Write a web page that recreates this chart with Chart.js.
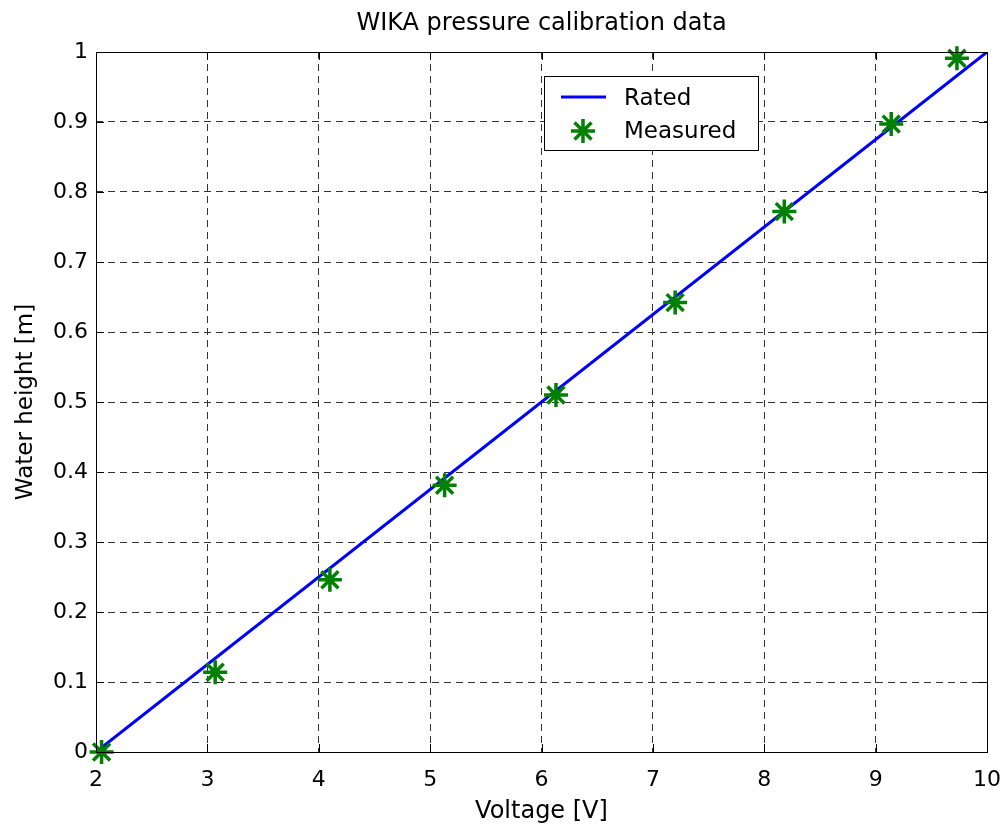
<!DOCTYPE html>
<html>
<head>
<meta charset="utf-8">
<script src="https://cdn.jsdelivr.net/npm/chart.js@4"></script>
<style>
  html, body { margin: 0; padding: 0; background: #fff; }
  #wrap { width: 1006px; height: 831px; }
</style>
</head>
<body>
<div id="wrap"><canvas id="myChart" width="1006" height="831"></canvas></div>
<script>
(function () {

    // rated sensor line (voltage -> water height)
    const ratedX = [2, 10];
    const ratedY = [0, 1];

    // measured calibration points
    const measuredX = [2.05, 3.07, 4.10, 5.13, 6.13, 7.20, 8.18, 9.14, 9.73];
    const measuredY = [0.000, 0.114, 0.246, 0.381, 0.510, 0.642, 0.772, 0.897, 0.991];

    const xTicks = [2, 3, 4, 5, 6, 7, 8, 9, 10];
    const yTicks = [0, 0.1, 0.2, 0.3, 0.4, 0.5, 0.6, 0.7, 0.8, 0.9, 1];

    const titleText = 'WIKA pressure calibration data';
    const font = '"DejaVu Sans", Arial, sans-serif';
    const green = '#008000';
    const blue = '#0000ff';

    const toPoints = (xs, ys) => xs.map((x, i) => ({ x: x, y: ys[i] }));

    // title, frame + inward tick marks like matlab
    const framePlugin = {
        id: 'frame',
        afterDraw(chart) {
            const ctx = chart.ctx;
            const a = chart.chartArea;
            const xs = chart.scales.x;
            const ys = chart.scales.y;
            ctx.save();
            ctx.strokeStyle = '#000';
            ctx.lineWidth = 1;
            ctx.setLineDash([]);
            ctx.beginPath();
            xTicks.forEach(v => {
                const px = Math.round(xs.getPixelForValue(v)) + 0.5;
                ctx.moveTo(px, a.bottom); ctx.lineTo(px, a.bottom - 8);
                ctx.moveTo(px, a.top); ctx.lineTo(px, a.top + 8);
            });
            yTicks.forEach(v => {
                const py = Math.round(ys.getPixelForValue(v)) + 0.5;
                ctx.moveTo(a.left, py); ctx.lineTo(a.left + 8, py);
                ctx.moveTo(a.right, py); ctx.lineTo(a.right - 8, py);
            });
            ctx.stroke();
            ctx.strokeRect(Math.round(a.left) + 0.5, Math.round(a.top) + 0.5,
                Math.round(a.right - a.left), Math.round(a.bottom - a.top));

            ctx.fillStyle = '#000';
            ctx.font = '24px ' + font;
            ctx.textAlign = 'center';
            ctx.textBaseline = 'alphabetic';
            ctx.fillText(titleText, (a.left + a.right) / 2, 30);
            ctx.restore();
        }
    };

    // legend box drawn inside the plot
    const legendPlugin = {
        id: 'insideLegend',
        afterDraw(chart) {
            const ctx = chart.ctx;
            const bx = 544, by = 76, bw = 214, bh = 74;
            ctx.save();
            ctx.fillStyle = '#fff';
            ctx.fillRect(bx, by, bw, bh);
            ctx.strokeStyle = '#000';
            ctx.lineWidth = 1;
            ctx.strokeRect(bx + 0.5, by + 0.5, bw, bh);

            ctx.strokeStyle = blue;
            ctx.lineWidth = 3;
            ctx.beginPath();
            ctx.moveTo(561, 97); ctx.lineTo(606, 97);
            ctx.stroke();

            // asterisk marker
            const cx = 583, cy = 131, r = 12;
            ctx.strokeStyle = green;
            ctx.lineWidth = 3.5;
            ctx.beginPath();
            for (let k = 0; k < 4; k++) {
                const ang = k * Math.PI / 4;
                ctx.moveTo(cx - r * Math.cos(ang), cy - r * Math.sin(ang));
                ctx.lineTo(cx + r * Math.cos(ang), cy + r * Math.sin(ang));
            }
            ctx.stroke();

            ctx.fillStyle = '#000';
            ctx.font = '23px ' + font;
            ctx.textBaseline = 'alphabetic';
            ctx.fillText('Rated', 624, 105);
            ctx.fillText('Measured', 624, 138);
            ctx.restore();
        }
    };

    const ctx = document.getElementById('myChart').getContext('2d');
    new Chart(ctx, {
        type: 'scatter',
        data: {
            datasets: [{
                label: 'Rated',
                type: 'line',
                data: toPoints(ratedX, ratedY),
                borderColor: blue,
                borderWidth: 3,
                pointRadius: 0,
                fill: false,
                order: 2
            }, {
                label: 'Measured',
                data: toPoints(measuredX, measuredY),
                pointStyle: 'star',
                pointRadius: 12,
                pointBorderWidth: 3.5,
                borderColor: green,
                backgroundColor: green,
                clip: false,
                order: 1
            }]
        },
        options: {
            responsive: false,
            animation: false,
            layout: { padding: { top: 52, right: 0, bottom: 0, left: 0 } },
            plugins: {
                legend: { display: false },
                tooltip: { enabled: false },
                title: { display: false }
            },
            scales: {
                x: {
                    type: 'linear',
                    min: 2,
                    max: 10,
                    afterBuildTicks: scale => { scale.ticks = xTicks.map(v => ({ value: v })); },
                    afterFit: scale => {
                        scale.height = 79;
                        scale.paddingLeft = 0;
                        scale.paddingRight = 19;
                    },
                    ticks: {
                        color: '#000',
                        font: { family: font, size: 22 },
                        padding: 15,
                        maxRotation: 0
                    },
                    grid: { color: '#333', lineWidth: 1, drawTicks: false },
                    border: { display: false, dash: [7, 5] },
                    title: {
                        display: true,
                        text: 'Voltage [V]',
                        color: '#000',
                        font: { family: font, size: 24 },
                        padding: { top: 0, bottom: 5 }
                    }
                },
                y: {
                    type: 'linear',
                    min: 0,
                    max: 1,
                    afterBuildTicks: scale => { scale.ticks = yTicks.map(v => ({ value: v })); },
                    afterFit: scale => { scale.width = 96; },
                    ticks: {
                        color: '#000',
                        font: { family: font, size: 22 },
                        padding: 8,
                        callback: v => String(+v.toFixed(1))
                    },
                    grid: { color: '#333', lineWidth: 1, drawTicks: false },
                    border: { display: false, dash: [7, 5] },
                    title: {
                        display: true,
                        text: 'Water height [m]',
                        color: '#000',
                        font: { family: font, size: 23 },
                        padding: { top: 12, bottom: 0 }
                    }
                }
            }
        },
        plugins: [framePlugin, legendPlugin]
    });

})();
</script>
</body>
</html>
